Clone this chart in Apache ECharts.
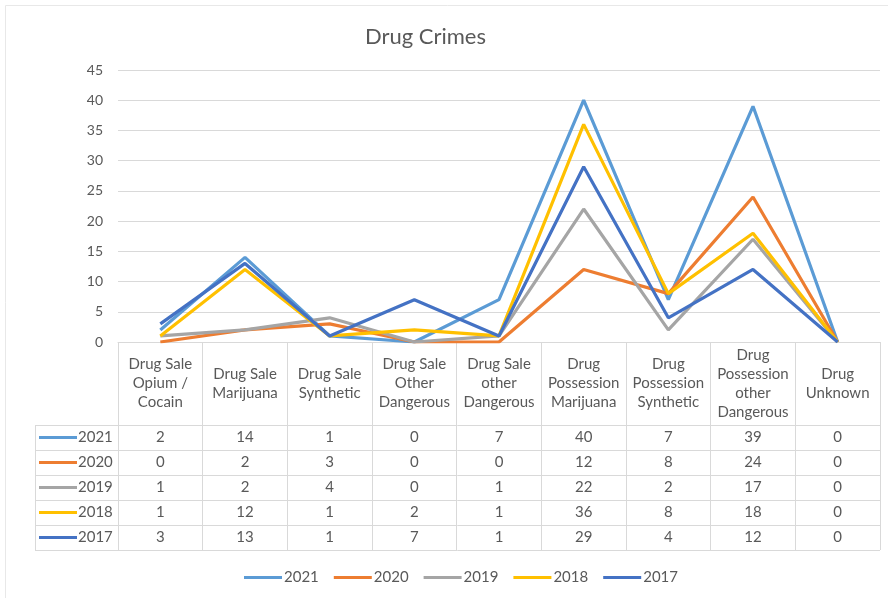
<!DOCTYPE html>
<html>
<head>
<meta charset="utf-8">
<title>Drug Crimes</title>
<script src="https://cdn.jsdelivr.net/npm/echarts@6/dist/echarts.min.js"></script>
<style>
  html, body { margin: 0; padding: 0; background: #ffffff; }
  #chart { width: 888px; height: 598px; }
</style>
</head>
<body>
<div id="chart"></div>
<script>
// Crime categories (x axis / table header)
const categories = [
  'Drug Sale\nOpium /\nCocain',
  'Drug Sale\nMarijuana',
  'Drug Sale\nSynthetic',
  'Drug Sale\nOther\nDangerous',
  'Drug Sale\nother\nDangerous',
  'Drug\nPossession\nMarijuana',
  'Drug\nPossession\nSynthetic',
  'Drug\nPossession\nother\nDangerous',
  'Drug\nUnknown'
];

// Yearly counts per category
const years = ['2021', '2020', '2019', '2018', '2017'];
const v2021 = [2, 14, 1, 0, 7, 40, 7, 39, 0];
const v2020 = [0, 2, 3, 0, 0, 12, 8, 24, 0];
const v2019 = [1, 2, 4, 0, 1, 22, 2, 17, 0];
const v2018 = [1, 12, 1, 2, 1, 36, 8, 18, 0];
const v2017 = [3, 13, 1, 7, 1, 29, 4, 12, 0];
const yearValues = [v2021, v2020, v2019, v2018, v2017];

// Value axis range
const yMin = 0;
const yMax = 45;
const yStep = 5;

const colors = ['#5B9BD5', '#ED7D31', '#A5A5A5', '#FFC000', '#4472C4'];

// Layout of the plot and the data table beneath it
const FONT = 'Lato, "Open Sans", sans-serif';
const TEXT = '#595959';
const RULE = '#D9D9D9';
const GRID_LEFT = 118, GRID_RIGHT = 880, GRID_TOP = 70, AXIS_Y = 342;
const HEADER_BOTTOM = 425, ROW_H = 25, TABLE_LEFT = 35;
const TABLE_BOTTOM = HEADER_BOTTOM + ROW_H * years.length;

const chart = echarts.init(document.getElementById('chart'), null, { renderer: 'canvas' });

// Main category axis: header cells as labels, long ticks as column rules
const xAxes = [{
  type: 'category',
  data: categories,
  boundaryGap: true,
  axisLine: { show: true, lineStyle: { color: RULE, width: 1 } },
  axisTick: { show: true, length: TABLE_BOTTOM - AXIS_Y, lineStyle: { color: RULE, width: 1 } },
  axisLabel: {
    interval: 0,
    margin: (HEADER_BOTTOM - AXIS_Y) / 2,
    verticalAlign: 'middle',
    lineHeight: 19,
    fontSize: 15,
    color: TEXT,
    fontFamily: FONT
  }
}];

// One extra axis per table row, its labels carry that year's values
yearValues.forEach((vals, k) => {
  xAxes.push({
    type: 'category',
    data: categories,
    position: 'bottom',
    offset: HEADER_BOTTOM + ROW_H * (k + 0.5) - AXIS_Y,
    boundaryGap: true,
    axisLine: { show: false },
    axisTick: { show: false },
    splitLine: { show: false },
    axisLabel: {
      interval: 0,
      margin: 0,
      verticalAlign: 'middle',
      fontSize: 15,
      color: TEXT,
      fontFamily: FONT,
      formatter: (v, i) => String(vals[i])
    }
  });
});

// Table rules and the row keys in the left column
const graphics = [];
graphics.push({
  type: 'rect', silent: true,
  shape: { x: 5.5, y: 5.5, width: 900, height: 620 },
  style: { fill: null, stroke: '#E8E8E8', lineWidth: 1 }
});
for (let k = 0; k <= years.length; k++) {
  const y = HEADER_BOTTOM + ROW_H * k + 0.5;
  graphics.push({
    type: 'line', silent: true,
    shape: { x1: TABLE_LEFT, y1: y, x2: GRID_RIGHT, y2: y },
    style: { stroke: RULE, lineWidth: 1 }
  });
}
graphics.push({
  type: 'line', silent: true,
  shape: { x1: TABLE_LEFT + 0.5, y1: HEADER_BOTTOM, x2: TABLE_LEFT + 0.5, y2: TABLE_BOTTOM },
  style: { stroke: RULE, lineWidth: 1 }
});
years.forEach((yr, k) => {
  const cy = HEADER_BOTTOM + ROW_H * (k + 0.5);
  graphics.push({
    type: 'line', silent: true,
    shape: { x1: 39, y1: cy, x2: 77, y2: cy },
    style: { stroke: colors[k], lineWidth: 3 }
  });
  graphics.push({
    type: 'text', silent: true,
    x: 78, y: cy,
    style: { text: yr, fill: TEXT, fontSize: 15, fontFamily: FONT, textVerticalAlign: 'middle', verticalAlign: 'middle' }
  });
});

const option = {
  backgroundColor: '#ffffff',
  color: colors,
  animation: false,
  title: {
    text: 'Drug Crimes',
    left: 360,
    top: 21,
    textStyle: { fontSize: 22, fontWeight: 'normal', color: TEXT, fontFamily: FONT }
  },
  legend: {
    data: years,
    left: 239,
    top: 565,
    icon: 'rect',
    itemWidth: 38,
    itemHeight: 3,
    itemGap: 15,
    textStyle: { fontSize: 15, color: TEXT, fontFamily: FONT, padding: [0, 0, 0, -3] }
  },
  grid: {
    left: GRID_LEFT,
    right: 888 - GRID_RIGHT,
    top: GRID_TOP,
    bottom: 598 - AXIS_Y,
    containLabel: false
  },
  xAxis: xAxes,
  yAxis: {
    type: 'value',
    min: yMin,
    max: yMax,
    interval: yStep,
    axisLine: { show: false },
    axisTick: { show: false },
    splitLine: { lineStyle: { color: RULE, width: 1 } },
    axisLabel: { margin: 15, fontSize: 14, color: TEXT, fontFamily: FONT }
  },
  graphic: graphics,
  series: years.map((yr, k) => ({
    name: yr,
    type: 'line',
    xAxisIndex: 0,
    data: yearValues[k],
    symbol: 'none',
    showSymbol: false,
    lineStyle: { width: 3.2, color: colors[k] },
    itemStyle: { color: colors[k] }
  }))
};

chart.setOption(option);
</script>
</body>
</html>
